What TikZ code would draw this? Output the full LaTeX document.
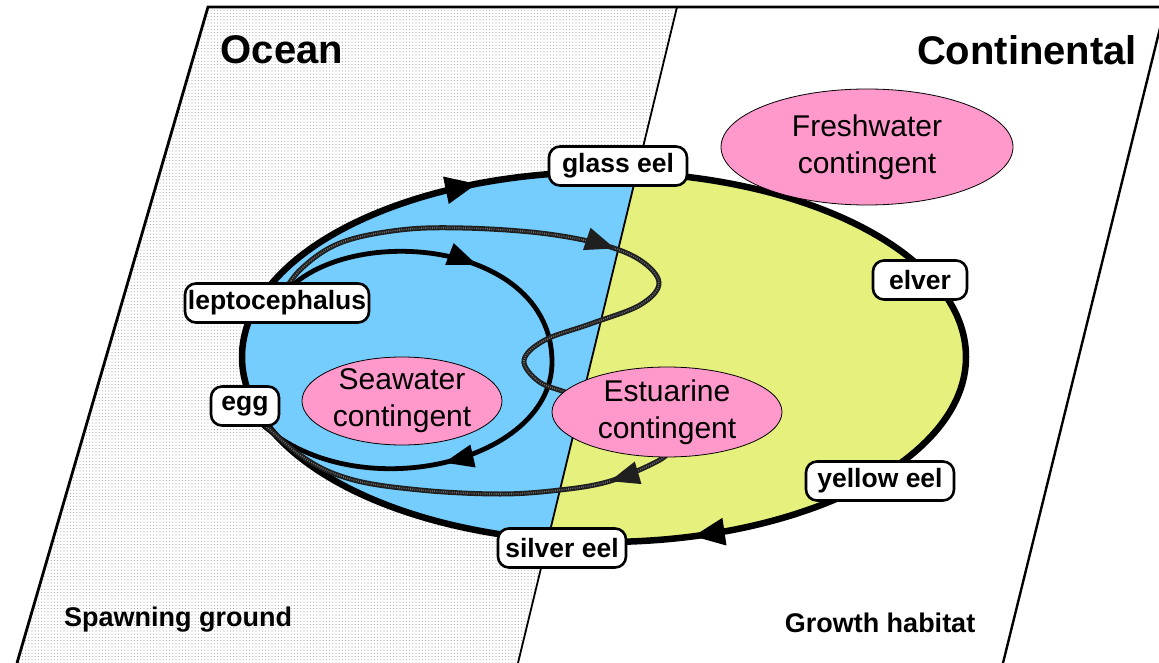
\documentclass[tikz,border=0pt]{standalone}
\usepackage{fontspec}
\setmainfont{Liberation Sans}
\usetikzlibrary{arrows.meta,decorations.markings,patterns.meta,shapes.geometric}
\definecolor{seablue}{HTML}{74CDFD}
\definecolor{contyellow}{HTML}{E6F07C}
\definecolor{pinkc}{HTML}{FF99CC}
\pgfdeclarelayer{back}
\pgfdeclarelayer{mid}
\pgfsetlayers{back,mid,main}
\tikzset{
  lab/.style={draw, line width=2.6pt, rounded corners=11pt, fill=white,
    font=\bfseries\fontsize{26.5}{30}\selectfont, inner sep=0pt, minimum height=39pt},
  cont/.style={ellipse, draw, line width=0.8pt, fill=pinkc, align=center,
    font=\fontsize{30}{37}\selectfont, inner xsep=0pt, inner ysep=-2pt},
  regiontitle/.style={font=\bfseries\fontsize{40}{46}\selectfont, inner sep=0pt},
  habitat/.style={font=\bfseries\fontsize{27}{32}\selectfont, inner sep=0pt},
  lifeline/.style={line width=6.5pt},
  sealoop/.style={line width=4.8pt},
  estloop/.style={line width=5pt, draw=black!88},
  bigtip/.tip={Triangle[length=32pt,width=26pt]},
  midtip/.tip={Triangle[length=30pt,width=22pt]},
}
\begin{document}
\begin{tikzpicture}[x=1pt,y=-1pt]
\useasboundingbox (0,0) rectangle (1159,663);
\clip (0,0) rectangle (1159,663);

% ---------- nodes (main layer) ----------
\node[lab, minimum width=138pt] (glass)  at (618,166) {glass eel};
\node[lab, minimum width=184pt] (lepto)  at (277,303) {leptocephalus};
\node[lab, minimum width=68pt]  (egg)    at (245,406) {egg};
\node[lab, minimum width=94pt]  (elver)  at (920,280) {elver};
\node[lab, minimum width=148pt] (yellow) at (880,481) {yellow eel};
\node[lab, minimum width=128pt] (silver) at (562,548) {silver eel};

\node[cont, minimum width=200pt, minimum height=88pt] (sea) at (402,401) {Seawater\\contingent};
\node[cont, minimum width=230pt, minimum height=90pt] (est) at (667,412) {Estuarine\\contingent};
\node[cont, minimum width=292pt, minimum height=116pt] (fresh) at (867,147) {Freshwater\\contingent};

\node[regiontitle] (ocean) at (282,50) {Ocean};
\node[regiontitle] (conti) at (1027,50) {Continental};
\node[habitat] (spawn) at (178,620) {Spawning ground};
\node[habitat] (growth) at (880,623) {Growth habitat};

% ---------- background ----------
\begin{pgfonlayer}{back}
  \fill[white] (0,0) rectangle (1159,663);
  \path[pattern={Dots[radius=0.55pt,distance=3.2pt]}, pattern color=black!38]
    (208,7) -- (677,7) -- (518,663) -- (17,663) -- cycle;
  \begin{scope}
    \clip (604,357) ellipse [x radius=362, y radius=185];
    \fill[seablue] (0,0) -- (677,7) -- (518,663) -- (0,663) -- cycle;
    \fill[contyellow] (677,7) -- (1159,0) -- (1159,663) -- (518,663) -- cycle;
  \end{scope}
  \draw[line width=2.8pt, line join=miter] (17,663) -- (208,7) -- (1170,7);
  \draw[line width=2.4pt] (1165,8) -- (1003,663);
  \draw[line width=1.8pt] (677,7) -- (518,663);
\end{pgfonlayer}

% ---------- life cycle and loops ----------
\begin{pgfonlayer}{mid}
  \draw[lifeline] (604,357) ellipse [x radius=362, y radius=185];
  \draw[lifeline, -{bigtip}] ([shift={(604,357)}]246:362 and 185) -- ([shift={(604,357)}]249.5:362 and 185);
  \draw[lifeline, -{bigtip}] ([shift={(604,357)}]72:362 and 185) -- ([shift={(604,357)}]75.8:362 and 185);

  \draw[sealoop, postaction={decorate}, decoration={markings,
      mark=at position 0.3 with {\arrow{midtip}},
      mark=at position 0.7 with {\arrow{midtip}}}]
    (lepto.center) .. controls (330,220) and (552,235) .. (552,362)
    .. controls (552,470) and (330,515) .. (egg.center);

  \draw[estloop,
      postaction={draw, black!55, line width=1.6pt, dash pattern=on 0.8pt off 1.4pt},
      postaction={decorate}, decoration={markings,
      mark=at position 0.30 with {\arrow{midtip}},
      mark=at position 0.681 with {\arrow{midtip}}}]
    plot[smooth, tension=0.6] coordinates {(lepto.center) (300,270) (340,243) (400,230)
      (463,228) (540,233) (600,244) (640,260) (659,283) (640,305) (590,324)
      (545,340) (524,360) (538,381) (565,392) (620,410) (660,435) (668,452)
      (650,465) (607,482) (560,490) (500,494) (420,490) (350,479) (300,455) (egg.center)};
\end{pgfonlayer}
\end{tikzpicture}
\end{document}
